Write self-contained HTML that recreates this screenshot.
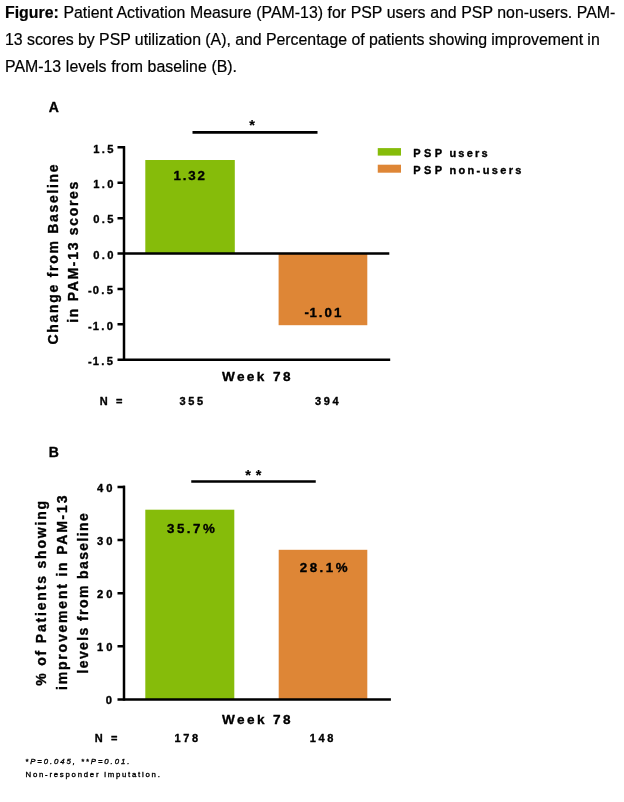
<!DOCTYPE html>
<html lang="en">
<head>
<meta charset="utf-8">
<title>Figure: Patient Activation Measure (PAM-13)</title>
<style>
html,body{margin:0;padding:0;background:#fff;}
body{width:624px;height:802px;position:relative;overflow:hidden;font-family:"Liberation Sans",Arial,sans-serif;color:#000;}
.cap{-webkit-text-stroke:0.2px #000;position:absolute;left:5px;top:-4px;width:618px;font-size:15.88px;line-height:27px;white-space:nowrap;}
.cap div{position:absolute;left:0;height:27px;}
svg{position:absolute;left:0;top:0;}
svg text{font-family:"Liberation Sans",Arial,sans-serif;font-weight:bold;fill:#000;stroke:#000;stroke-width:0.35px;stroke-linejoin:round;}
.tk{font-size:11.2px;letter-spacing:2.4px;}
.yl{font-size:14px;letter-spacing:1.7px;}
.xl{font-size:13.6px;letter-spacing:2.4px;}
.n{font-size:11px;letter-spacing:2.6px;}
.v{font-size:13.3px;letter-spacing:2.5px;}
.lg{font-size:11px;letter-spacing:2.25px;}
.pl{font-size:14px;}
.st{font-size:14.5px;letter-spacing:4.8px;stroke-width:0.2px !important;}
.ft{font-size:7.8px;letter-spacing:1.9px;font-weight:normal;stroke-width:0.35px;}
</style>
</head>
<body>
<div class="cap">
<div style="top:3px;word-spacing:0.17px"><b>Figure:</b> Patient Activation Measure (PAM-13) for PSP users and PSP non-users. PAM-</div>
<div style="top:30px;word-spacing:-0.125px">13 scores by PSP utilization (A), and Percentage of patients showing improvement in</div>
<div style="top:57px;word-spacing:0.28px">PAM-13 levels from baseline (B).</div>
</div>
<svg width="624" height="802" viewBox="0 0 624 802">
<!-- Panel A -->
<text class="pl" id="pA" x="48.7" y="112">A</text>
<rect x="145.3" y="160" width="89.5" height="93.4" fill="#86bc0a"/>
<rect x="278.6" y="253.4" width="88.7" height="71.8" fill="#de8636"/>
<g stroke="#000" stroke-width="2.5" fill="none">
<path d="M124 146.2V360.9"/>
<path d="M117.5 147.35H125M117.5 182.75H125M117.5 218.15H125M117.5 253.55H389.3M117.5 288.95H125M117.5 324.35H125M117.5 359.75H390.2"/>
<path d="M192.5 132.4H317.5" stroke-width="2.8"/>
</g>
<text class="st" id="sA" x="249.3" y="130">*</text>
<g class="tk">
<text id="tA1" x="93.2" y="152.55">1.5</text>
<text id="tA2" x="93.2" y="187.95">1.0</text>
<text id="tA3" x="93.2" y="223.35">0.5</text>
<text id="tA4" x="93.2" y="258.75">0.0</text>
<text id="tA5" x="88.1" y="294.15"><tspan style="letter-spacing:0.9px">-</tspan>0.5</text>
<text id="tA6" x="88.1" y="329.55"><tspan style="letter-spacing:0.9px">-</tspan>1.0</text>
<text id="tA7" x="88.1" y="364.95"><tspan style="letter-spacing:0.9px">-</tspan>1.5</text>
</g>
<text class="yl" id="yA1" transform="translate(57.5 344.5) rotate(-90)">Change from Baseline</text>
<text class="yl" id="yA2" transform="translate(78 322.8) rotate(-90)">in PAM-13 scores</text>
<text class="v" id="vA1" x="173.5" y="180.1" style="letter-spacing:1.8px">1.32</text>
<text class="v" id="vA2" x="304.5" y="316.5" style="letter-spacing:2px"><tspan style="letter-spacing:0.5px">-</tspan>1.01</text>
<text class="xl" id="xA" x="221.9" y="381.2">Week 78</text>
<g class="n">
<text id="nA0" x="99.8" y="404.5">N =</text>
<text id="nA1" x="179.6" y="404.5">355</text>
<text id="nA2" x="315" y="404.5">394</text>
</g>
<rect x="377.75" y="148.1" width="23.25" height="7.5" fill="#86bc0a"/>
<rect x="377.75" y="164.7" width="23.25" height="8" fill="#de8636"/>
<text class="lg" id="l1" x="413.2" y="156.9"><tspan style="letter-spacing:3.4px">PSP</tspan><tspan style="letter-spacing:0.9px"> </tspan>users</text>
<text class="lg" id="l2" x="413.2" y="173.8" style="letter-spacing:2.36px"><tspan style="letter-spacing:3.4px">PSP</tspan><tspan style="letter-spacing:0.9px"> </tspan>non-users</text>
<!-- Panel B -->
<text class="pl" id="pB" x="48.7" y="457.2">B</text>
<rect x="145.3" y="509.7" width="89" height="189.7" fill="#86bc0a"/>
<rect x="278.7" y="549.8" width="88.6" height="149.6" fill="#de8636"/>
<g stroke="#000" stroke-width="2.5" fill="none">
<path d="M124 485.7V700.6"/>
<path d="M117.5 486.9H125M117.5 540H125M117.5 593.15H125M117.5 646.3H125M117.5 699.4H390.9"/>
<path d="M191.25 481.5H315.75" stroke-width="2.5"/>
</g>
<text class="st" id="sB" x="245.3" y="479.6">**</text>
<g class="tk" style="letter-spacing:3.1px">
<text id="tB1" x="97" y="491.60">40</text>
<text id="tB2" x="97" y="544.70">30</text>
<text id="tB3" x="97" y="597.85">20</text>
<text id="tB4" x="97" y="651.00">10</text>
<text id="tB5" x="105.8" y="704.10">0</text>
</g>
<text class="yl" id="yB1" style="letter-spacing:1.82px" transform="translate(45.6 685.8) rotate(-90)">% of Patients showing</text>
<text class="yl" id="yB2" style="letter-spacing:1.8px" transform="translate(66.8 690) rotate(-90)">improvement in PAM-13</text>
<text class="yl" id="yB3" style="letter-spacing:1.4px" transform="translate(88 673.6) rotate(-90)">levels from baseline</text>
<text class="v" id="vB1" x="167" y="532.9">35.7%</text>
<text class="v" id="vB2" x="299.8" y="572.2">28.1%</text>
<text class="xl" id="xB" x="222" y="723.9">Week 78</text>
<g class="n">
<text id="nB0" x="94.8" y="741.75">N =</text>
<text id="nB1" x="174.5" y="741.75">178</text>
<text id="nB2" x="309.8" y="741.75">148</text>
</g>
<text class="ft" id="f1" x="25.3" y="764.2" style="font-style:italic">*P=0.045, **P=0.01.</text>
<text class="ft" id="f2" x="25.5" y="776.8" style="letter-spacing:1.75px">Non-responder imputation.</text>
</svg>
</body>
</html>
